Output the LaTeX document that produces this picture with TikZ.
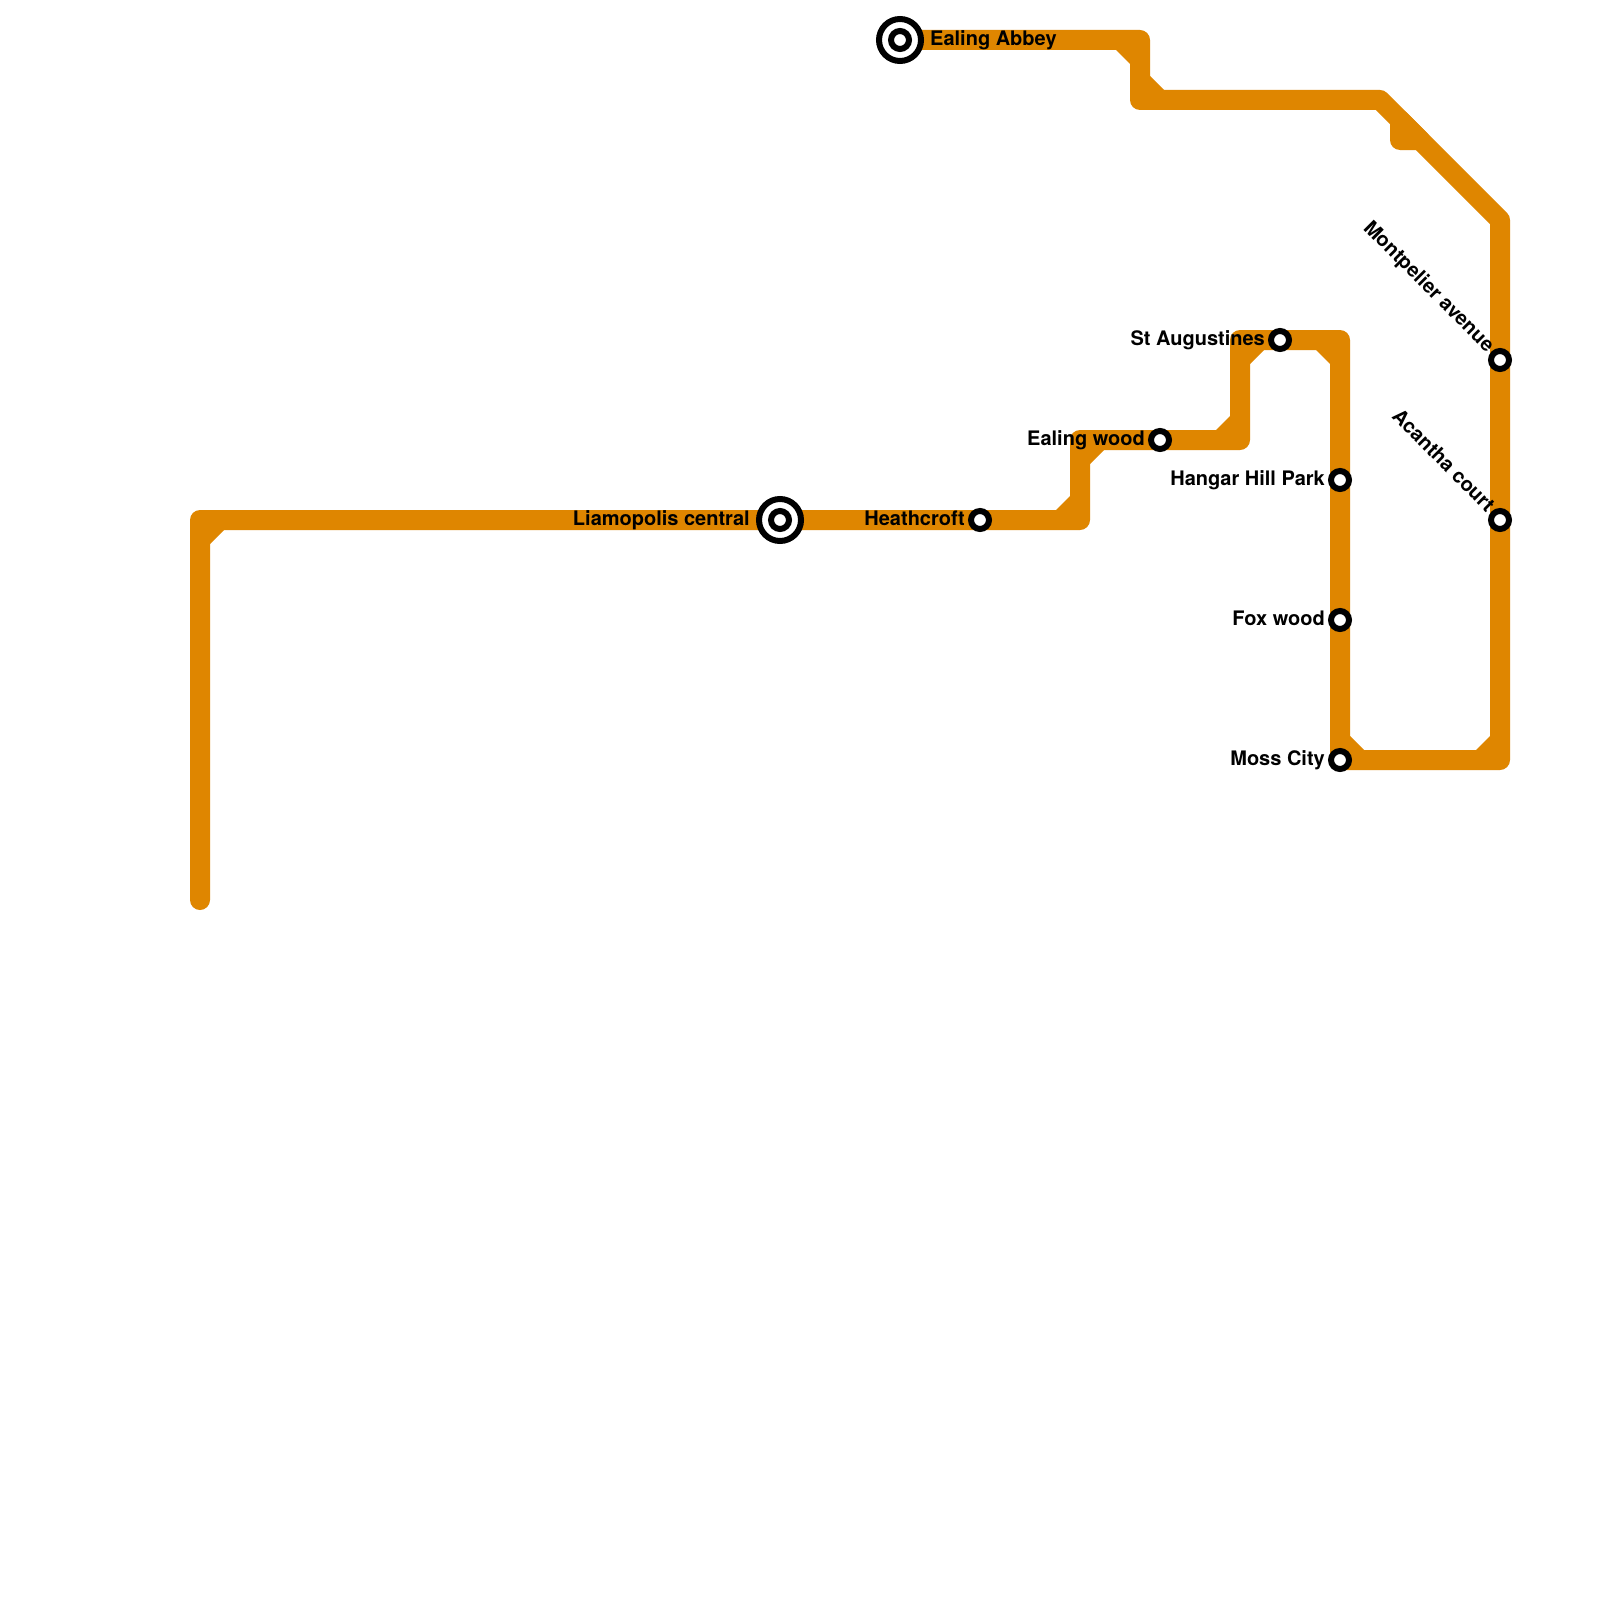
\documentclass[tikz,border=0pt]{standalone}
\usepackage{fontspec}
\setmainfont{TeX Gyre Heros}
\definecolor{metro}{HTML}{DF8600}
\tikzset{
  x=1pt,y=-1pt,
  line/.style={draw=metro,line width=20pt,line join=round,line cap=round},
  chamfer/.style={fill=metro,draw=none},
  small/.style={circle,draw=black,fill=white,line width=6pt,minimum size=18pt,inner sep=0pt,outer sep=0pt},
  big/.style={circle,draw=black,fill=white,line width=6pt,minimum size=42pt,inner sep=0pt,outer sep=0pt},
  lbl/.style={inner sep=0pt,font=\bfseries\fontsize{20pt}{22pt}\selectfont,text=black},
}
\begin{document}
\begin{tikzpicture}
\useasboundingbox[fill=white] (0,0) rectangle (1600,1600);
% corner points
\coordinate (start) at (200,900);
\coordinate (c1) at (200,520);
\coordinate (c2) at (1080,520);
\coordinate (c3) at (1080,440);
\coordinate (c4) at (1240,440);
\coordinate (c5) at (1240,340);
\coordinate (c6) at (1340,340);
\coordinate (c7) at (1340,760);
\coordinate (c8) at (1500,760);
\coordinate (c9) at (1500,220);
\coordinate (c10) at (1380,100);
\coordinate (c11) at (1140,100);
\coordinate (c12) at (1140,40);
\coordinate (c13) at (900,40);
\coordinate (s1) at (1400,120);
\coordinate (s2) at (1400,140);
\coordinate (s3) at (1420,140);
\draw[line] (start)--(c1)--(c2)--(c3)--(c4)--(c5)--(c6)--(c7)--(c8)--(c9)--(c10)--(c11)--(c12)--(c13);
\draw[line] (s1)--(s2)--(s3)--cycle;
% inner-corner fillets
\fill[chamfer] (210,530)--(224,530)--(210,544)--cycle;
\fill[chamfer] (1070,510)--(1056,510)--(1070,496)--cycle;
\fill[chamfer] (1090,450)--(1104,450)--(1090,464)--cycle;
\fill[chamfer] (1230,430)--(1216,430)--(1230,416)--cycle;
\fill[chamfer] (1250,350)--(1264,350)--(1250,364)--cycle;
\fill[chamfer] (1330,350)--(1316,350)--(1330,364)--cycle;
\fill[chamfer] (1350,750)--(1364,750)--(1350,736)--cycle;
\fill[chamfer] (1490,750)--(1476,750)--(1490,736)--cycle;
\fill[chamfer] (1150,90)--(1164,90)--(1150,76)--cycle;
\fill[chamfer] (1130,50)--(1116,50)--(1130,64)--cycle;
% stations
\node[big] (liamB) at (780,520) {};
\node[small] (liam) at (780,520) {};
\node[big] (abbeyB) at (900,40) {};
\node[small] (abbey) at (900,40) {};
\node[small] (heath) at (980,520) {};
\node[small] (wood) at (1160,440) {};
\node[small] (aug) at (1280,340) {};
\node[small] (hangar) at (1340,480) {};
\node[small] (fox) at (1340,620) {};
\node[small] (moss) at (1340,760) {};
\node[small] (mont) at (1500,360) {};
\node[small] (acan) at (1500,520) {};
% labels
\node[lbl,anchor=base east] (tliam) at (750,525.5) {Liamopolis central};
\node[lbl,anchor=base west] (tabbey) at (930,45.5) {Ealing Abbey};
\node[lbl,anchor=base east] (theath) at (965,525.5) {Heathcroft};
\node[lbl,anchor=base east] (twood) at (1145,445.5) {Ealing wood};
\node[lbl,anchor=base east] (taug) at (1265,345.5) {St Augustines};
\node[lbl,anchor=base east] (thangar) at (1325,485.5) {Hangar Hill Park};
\node[lbl,anchor=base east] (tfox) at (1325,625.5) {Fox wood};
\node[lbl,anchor=base east] (tmoss) at (1325,765.5) {Moss City};
\node[lbl,anchor=base east,rotate=-45] (tmont) at (1486.5,353) {Montpelier avenue};
\node[lbl,anchor=base east,rotate=-45] (tacan) at (1486.5,513) {Acantha court};
\end{tikzpicture}
\end{document}
